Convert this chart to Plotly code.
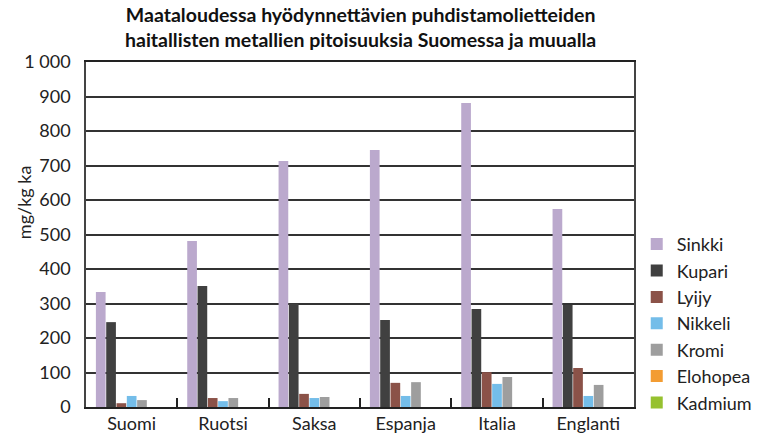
import plotly.graph_objects as go

categories = ["Suomi", "Ruotsi", "Saksa", "Espanja", "Italia", "Englanti"]
series_names = ["Sinkki", "Kupari", "Lyijy", "Nikkeli", "Kromi", "Elohopea", "Kadmium"]
sinkki = [333, 481, 713, 745, 881, 574]
kupari = [246, 351, 300, 252, 284, 296]
lyijy = [11, 26, 38, 70, 101, 113]
nikkeli = [32, 17, 26, 32, 67, 32]
kromi = [20, 26, 29, 72, 87, 64]
elohopea = [0, 0, 0, 0, 0, 0]
kadmium = [0, 0, 0, 0, 0, 0]
colors = ["#BBA9CD", "#404040", "#8B5248", "#74BDE9", "#9E9E9E", "#F39C32", "#96C12F"]
y_tickvals = [0, 100, 200, 300, 400, 500, 600, 700, 800, 900, 1000]
y_ticktext = ["0", "100", "200", "300", "400", "500", "600", "700", "800", "900", "1 000"]
y_title = "mg/kg ka"

title_text = "<b>Maataloudessa hyödynnettävien puhdistamolietteiden<br>haitallisten metallien pitoisuuksia Suomessa ja muualla</b>"

fig = go.Figure()
for name, vals, col in zip(series_names, [sinkki, kupari, lyijy, nikkeli, kromi, elohopea, kadmium], colors):
    fig.add_trace(go.Bar(name=name, x=categories, y=vals, marker=dict(color=col, line=dict(width=0))))

FONT = "Lato, 'Open Sans', sans-serif"
fig.update_layout(
    width=769, height=441,
    margin=dict(l=86, r=117, t=62, b=34),
    paper_bgcolor="white", plot_bgcolor="white",
    barmode="group", bargap=0.21, bargroupgap=0.06,
    font=dict(family=FONT, size=18, color="#222"),
    legend=dict(x=1.005, xanchor="left", y=0.525, yanchor="top", font=dict(size=18),
                tracegroupgap=0, itemwidth=30, bgcolor="rgba(0,0,0,0)"),
    showlegend=True,
    annotations=[
        dict(text=title_text, xref="paper", yref="paper", x=0.5, y=1.177,
             xanchor="center", yanchor="top", showarrow=False, align="center",
             font=dict(family=FONT, size=19.5, color="#111")),
        dict(text=y_title, xref="paper", yref="paper", x=-0.113, y=0.594,
             xanchor="center", yanchor="middle", textangle=-90, showarrow=False,
             font=dict(size=18, color="#222")),
    ],
)
fig.update_xaxes(showline=True, linecolor="#222", linewidth=1.5, mirror=True,
                 ticks="inside", tickson="boundaries", ticklen=9, tickcolor="#222", tickwidth=1.5,
                 tickfont=dict(size=18), showgrid=False, automargin=False)
fig.update_yaxes(range=[0, 1000], tickvals=y_tickvals, ticktext=y_ticktext,
                 showgrid=True, gridcolor="#333", gridwidth=1.5,
                 showline=True, linecolor="#444", linewidth=1.5, mirror=True,
                 ticks="", tickfont=dict(size=18), ticklabelstandoff=10,
                 zeroline=False, automargin=False)

fig.write_html("out.html", config={"displayModeBar": False},
               post_script="document.body.style.margin='0';document.body.style.padding='0';")
